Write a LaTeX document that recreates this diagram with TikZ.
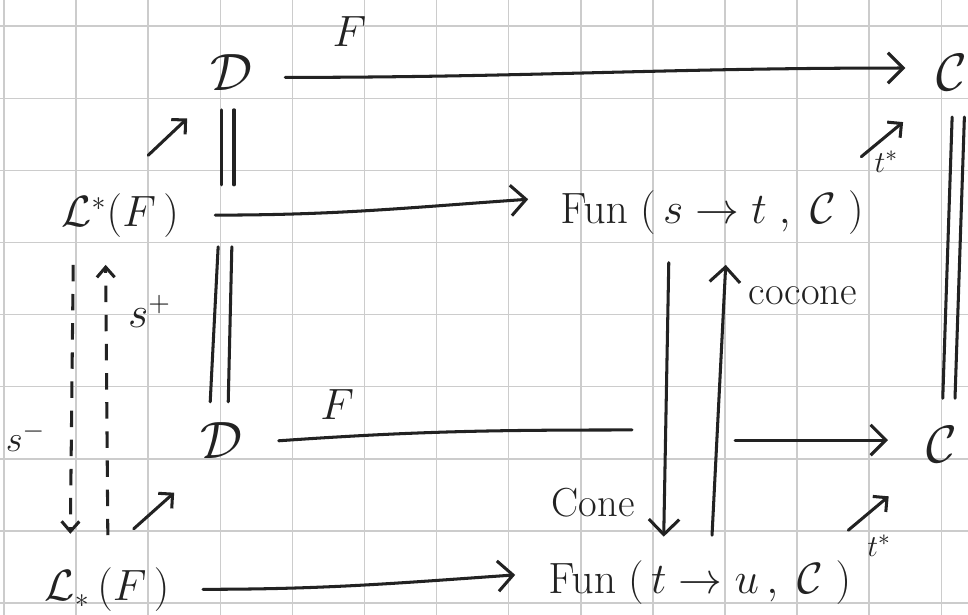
\documentclass[tikz,border=0pt]{standalone}
\usepackage{amsmath,amssymb}
\usepackage{xcolor}
\usepackage{tikz}
\usetikzlibrary{arrows.meta,calc}
\definecolor{figline}{RGB}{34,34,34}
\definecolor{figgrid}{RGB}{204,204,204}
\tikzset{
  obj/.style  ={font=\fontsize{16}{19}\selectfont, inner sep=1pt, text=figline},
  objb/.style ={font=\fontsize{20}{24}\selectfont, inner sep=1pt, text=figline},
  lab/.style  ={font=\fontsize{16}{19}\selectfont, inner sep=1pt, text=figline},
  labs/.style ={font=\fontsize{13}{15}\selectfont, inner sep=1pt, text=figline},
  ln/.style   ={draw=figline, line width=1.2pt, line cap=round},
  arr/.style  ={ln, -{Straight Barb[length=6pt,width=12pt]}},
  arrs/.style ={ln, -{Straight Barb[length=4pt,width=8pt]}},
  dsh/.style  ={ln, line cap=butt, dash pattern=on 6.5pt off 5pt, -{Straight Barb[length=4pt,width=7pt]}},
}

\begin{document}
\begin{tikzpicture}
  \useasboundingbox (-0.0555,-0.1526) rectangle (13.3703,8.3634);
  \fill[white] (-0.0555,-0.1526) rectangle (13.3703,8.3634);
  \draw[figgrid, line width=0.6pt, step=1] (-0.06,-0.16) grid (13.38,8.37);

  \node[objb] (Dt) at (3.16,7.36) {$\mathcal{D}$};
  \node[objb] (Ct) at (13.15,7.36) {$\mathcal{C}$};
  \node[obj] (Lst) at (1.61,5.38) {$\mathcal{L}^{*}(F\,)$};
  \node[obj] (Fst) at (9.82,5.41) {$\mathrm{Fun}\;(\,s \to t\;,\;\mathcal{C}\;)$};
  \node[objb] (Db) at (3.02,2.26) {$\mathcal{D}$};
  \node[objb] (Cb) at (13.01,2.20) {$\mathcal{C}$};
  \node[obj] (Lsub) at (1.43,0.18) {$\mathcal{L}_{*}\,(F\,)$};
  \node[obj] (Ftu) at (9.65,0.28) {$\mathrm{Fun}\;(\,t \to u\,,\;\mathcal{C}\;)$};

  \node[lab] (lFt) at (4.79,7.93) {$F$};
  \node[lab] (lFb) at (4.62,2.75) {$F$};
  \node[labs] (ltt) at (12.24,6.12) {$t^{*}$};
  \node[labs] (ltb) at (12.14,0.80) {$t^{*}$};
  \node[lab] (lcoc) at (11.08,4.26) {cocone};
  \node[lab] (lcone) at (8.17,1.39) {Cone};
  \node[lab] (lsp) at (2.02,4.04) {$s^{+}$};
  \node[labs] (lsm) at (0.30,2.30) {\fontsize{15}{18}\selectfont$s^{-}$};

  \draw[arr] ($(Dt)+(0.74,-0.07)$) to[out=0,in=180] ($(Ct)+(-0.65,0.06)$);
  \draw[arr] ($(Lst)+(1.32,0)$) to[out=0,in=184] ($(Fst)+(-2.55,0.19)$);
  \draw[ln] ($(Db)+(0.79,-0.01)$) to[out=4,in=180] ($(Db)+(5.69,0.14)$);
  \draw[arr] ($(Cb)+(-2.87,0.06)$) -- ($(Cb)+(-0.75,0.06)$);
  \draw[arr] ($(Lsub)+(1.33,0.01)$) to[out=0,in=184] ($(Ftu)+(-2.56,0.11)$);

  \draw[arr] ($(Fst)+(-0.60,-0.69)$) -- ($(Ftu)+(-0.50,0.64)$);
  \draw[arr] ($(Ftu)+(0.17,0.66)$) -- ($(Fst)+(0.19,-0.72)$);
  \draw[dsh] ($(Lst)+(-0.65,-0.69)$) -- ($(Lsub)+(-0.51,0.78)$);
  \draw[dsh] ($(Lsub)+(0.01,0.76)$) -- ($(Lst)+(-0.20,-0.69)$);

  \draw[ln] ($(Dt)+(-0.15,-0.52)$) -- ($(Dt)+(-0.15,-1.56)$);
  \draw[ln] ($(Dt)+(0.03,-0.52)$) -- ($(Dt)+(0.03,-1.56)$);
  \draw[ln] ($(Db)+(-0.05,2.68)$) -- ($(Db)+(-0.16,0.53)$);
  \draw[ln] ($(Db)+(0.14,2.68)$) -- ($(Db)+(0.09,0.53)$);
  \draw[ln] ($(Ct)+(0,-0.62)$) -- ($(Cb)+(0.01,0.64)$);
  \draw[ln] ($(Ct)+(0.17,-0.62)$) -- ($(Cb)+(0.18,0.64)$);

  \draw[arrs] ($(Lst)+(0.39,0.83)$) -- ($(Dt)+(-0.62,-0.64)$);
  \draw[arrs] ($(Lsub)+(0.37,0.85)$) -- ($(Db)+(-0.66,-0.73)$);
  \draw[arrs] ($(Fst)+(2.07,0.78)$) -- ($(Ct)+(-0.68,-0.69)$);
  \draw[arrs] ($(Ftu)+(2.06,0.73)$) -- ($(Cb)+(-0.74,-0.72)$);
\end{tikzpicture}
\end{document}
